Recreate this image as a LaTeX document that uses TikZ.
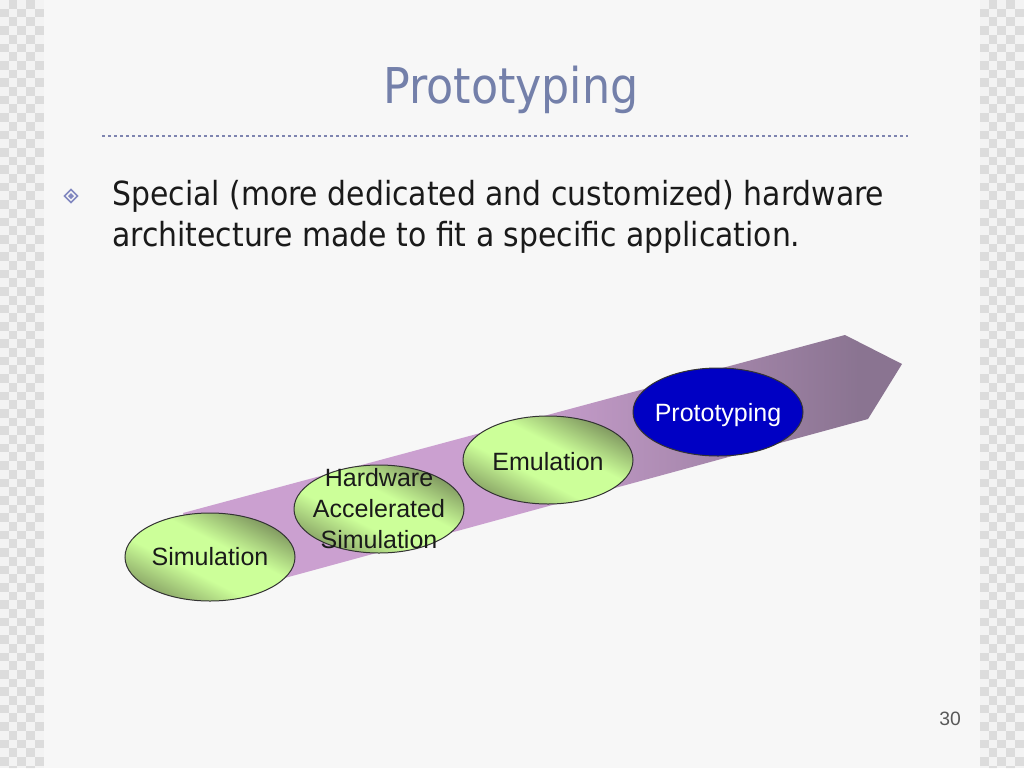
\documentclass[tikz,border=0pt]{standalone}
\usepackage{fontspec}
\setmainfont{Liberation Sans}
\newfontfamily\tahomalike{DejaVu Sans Condensed}
\usetikzlibrary{shapes.geometric,calc}

\definecolor{slidebg}{HTML}{F7F7F7}
\definecolor{chkA}{HTML}{DCDCDC}
\definecolor{chkB}{HTML}{F3F3F3}
\definecolor{titlecol}{HTML}{7480AA}
\definecolor{dotcol}{HTML}{7E84B0}
\definecolor{bulletcol}{HTML}{8288C0}
\definecolor{textcol}{HTML}{1A1A1A}
\definecolor{bandA}{HTML}{CBA0D0}
\definecolor{bandB}{HTML}{8A7491}
\definecolor{greenC}{HTML}{CCFF99}
\definecolor{greenE}{HTML}{809860}
\definecolor{greenF}{HTML}{8CA868}
\definecolor{protoblue}{HTML}{0000C4}

\pgfdeclarehorizontalshading{bandshade}{100bp}{color(0bp)=(bandA); color(48bp)=(bandA); color(72bp)=(bandB); color(100bp)=(bandB)}
\pgfdeclareverticalshading{greenlin}{100bp}{color(0bp)=(greenF); color(25bp)=(greenF); color(41bp)=(greenC); color(57bp)=(greenC); color(75bp)=(greenE); color(100bp)=(greenE)}

\newcommand\greenblob[1]{%
  \begin{scope}
    \clip (#1) ellipse [x radius=85, y radius=44];
    \begin{scope}[transform canvas={shift={(#1)}, rotate=-27}]
      \shade[shading=greenlin] (-110,-56) rectangle (110,56);
    \end{scope}
  \end{scope}}

\tikzset{
  slidetitle/.style={font=\tahomalike\fontsize{37}{45}\selectfont, text=titlecol, inner sep=0, anchor=base},
  bodytext/.style={font=\tahomalike\fontsize{24.9}{31}\selectfont, text=textcol, inner sep=0, anchor=base west},
  stage/.style={ellipse, draw=black!80, line width=0.75pt, minimum width=127.5pt, minimum height=66pt, inner sep=0},
  bluestage/.style={stage, fill=protoblue},
  stagelabel/.style={font=\fontsize{18.75}{23.25}\selectfont, text=textcol, align=center, inner sep=0},
  pagenum/.style={font=\fontsize{14.5}{17}\selectfont, text=black!65, inner sep=0, anchor=base},
}

\begin{document}
\begin{tikzpicture}[x=0.75pt,y=-0.75pt]
\useasboundingbox (0,0) rectangle (1024,768);
% checkerboard margins
\fill[chkB] (0,0) rectangle (1024,768);
\begin{scope}
  \clip (0,0) rectangle (44,768) (980,0) rectangle (1024,768);
  \foreach \i in {0,...,4}{
    \foreach \j in {0,...,88}{
      \pgfmathtruncatemacro{\parity}{mod(\i+\j,2)}
      \ifnum\parity=1
        \fill[chkA] (\i*8.7,\j*8.7) rectangle ++(8.7,8.7);
        \fill[chkA] (980+\i*8.7,\j*8.7) rectangle ++(8.7,8.7);
      \fi
    }
  }
\end{scope}
\fill[slidebg] (44,0) rectangle (980,768);

% title and rule
\node[slidetitle] (title) at (511,103) {Prototyping};
\coordinate (ruleL) at (102,136);
\coordinate (ruleR) at (908,136);
\draw[dotcol, line width=2.05pt, dash pattern=on 2.05pt off 2.45pt] (ruleL) -- (ruleR);

% bullet
\coordinate (bul) at (71,196);
\draw[bulletcol, line width=1.1pt] ($(bul)+(0,-6.5)$) -- ($(bul)+(6.5,0)$) -- ($(bul)+(0,6.5)$) -- ($(bul)+(-6.5,0)$) -- cycle;
\fill[bulletcol] ($(bul)+(0,-3)$) -- ($(bul)+(3,0)$) -- ($(bul)+(0,3)$) -- ($(bul)+(-3,0)$) -- cycle;
\node[bodytext] (line1) at (112,205) {Special (more dedicated and customized) hardware};
\node[bodytext] (line2) at (112,246) {architecture made to fit a specific application.};

% band arrow
\shade[shading=bandshade] (183,513) -- (845,335) -- (902,364) -- (868,419) -- (215,597) -- cycle;

% stage centres
\coordinate (simc) at (210,557);
\coordinate (hasc) at (379,509);
\coordinate (emuc) at (548,460);
\coordinate (protoc) at (718,412);

% stages
\greenblob{simc}
\node[stage] (sim) at (simc) {};
\node[stagelabel] at (sim) {Simulation};
\greenblob{hasc}
\node[stage] (has) at (hasc) {};
\node[stagelabel] at (has) {Hardware\\Accelerated\\Simulation};
\greenblob{emuc}
\node[stage] (emu) at (emuc) {};
\node[stagelabel] at ($(emu)+(0,2)$) {Emulation};
\node[bluestage] (proto) at (protoc) {};
\node[stagelabel, text=white] at ($(proto)+(0,3)$) {Prototyping};

\node[pagenum] (pg) at (950,725) {30};
\end{tikzpicture}
\end{document}
